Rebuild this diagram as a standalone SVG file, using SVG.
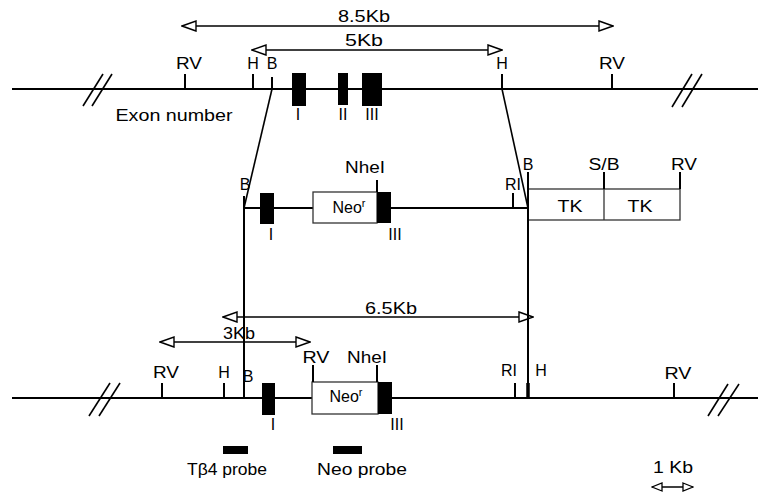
<svg xmlns="http://www.w3.org/2000/svg" width="758" height="495" viewBox="0 0 758 495">
<style>
.t{font-family:"Liberation Sans",Arial,Helvetica,sans-serif;font-size:16px;text-anchor:middle;fill:#000}
.ln{stroke:#000;stroke-width:2;fill:none}
.tk{stroke:#000;stroke-width:2;fill:none}
.ex{fill:#000;stroke:none}
.bx{fill:#fff;stroke:#333;stroke-width:1.3}
.dim{stroke:#000;stroke-width:1.6;fill:none;marker-start:url(#ah);marker-end:url(#ah)}
.dims{stroke:#000;stroke-width:1.4;fill:none;marker-start:url(#ahs);marker-end:url(#ahs)}
.sl{stroke:#000;stroke-width:1.6;fill:none}
</style>
<defs>
<marker id="ah" viewBox="-1 -1 16 12" refX="14" refY="5" markerWidth="16" markerHeight="12" markerUnits="userSpaceOnUse" orient="auto-start-reverse">
<path d="M0,0 L14,5 L0,10 Z" fill="#fff" stroke="#000" stroke-width="1.4"/>
</marker>
<marker id="ahs" viewBox="-1 -1 12 10" refX="10" refY="4" markerWidth="12" markerHeight="10" markerUnits="userSpaceOnUse" orient="auto-start-reverse">
<path d="M0,0 L10,4 L0,8 Z" fill="#fff" stroke="#000" stroke-width="1.3"/>
</marker>
</defs>
<rect width="758" height="495" fill="#fff"/>

<g id="dimensions">
<line class="dim" x1="182" y1="26" x2="613" y2="26"/>
<text class="t" x="364" y="22" textLength="52" lengthAdjust="spacingAndGlyphs">8.5Kb</text>
<line class="dim" x1="252" y1="50" x2="502" y2="50"/>
<text class="t" x="364" y="46" textLength="38" lengthAdjust="spacingAndGlyphs">5Kb</text>
<line class="dim" x1="223" y1="317" x2="533" y2="317"/>
<text class="t" x="391" y="314" textLength="52" lengthAdjust="spacingAndGlyphs">6.5Kb</text>
<line class="dim" x1="160" y1="342" x2="310" y2="342"/>
<text class="t" x="239" y="339" textLength="32" lengthAdjust="spacingAndGlyphs">3Kb</text>
</g>

<g id="genomic-locus">
<line class="ln" x1="12" y1="89" x2="758" y2="89"/>
<line class="sl" x1="83" y1="106" x2="103" y2="74"/>
<line class="sl" x1="92" y1="106" x2="112" y2="74"/>
<line class="sl" x1="672" y1="107" x2="692" y2="74"/>
<line class="sl" x1="682" y1="107" x2="702" y2="74"/>
<line class="tk" x1="185" y1="74" x2="185" y2="89"/>
<line class="tk" x1="253" y1="74" x2="253" y2="89"/>
<line class="tk" x1="272" y1="77" x2="272" y2="89"/>
<line class="tk" x1="502" y1="74" x2="502" y2="89"/>
<line class="tk" x1="612" y1="74" x2="612" y2="89"/>
<rect class="ex" x="292" y="73" width="14" height="33"/>
<rect class="ex" x="338" y="73" width="10" height="32"/>
<rect class="ex" x="362" y="73" width="20" height="33"/>
<text class="t" x="189" y="69" textLength="26" lengthAdjust="spacingAndGlyphs">RV</text>
<text class="t" x="253" y="69">H</text>
<text class="t" x="272" y="69">B</text>
<text class="t" x="502" y="69">H</text>
<text class="t" x="612" y="69" textLength="26" lengthAdjust="spacingAndGlyphs">RV</text>
<text class="t" x="174" y="121" textLength="117" lengthAdjust="spacingAndGlyphs">Exon number</text>
<text class="t" x="298" y="120">I</text>
<text class="t" x="343" y="120">II</text>
<text class="t" x="372" y="120">III</text>
</g>

<g id="targeting-construct">
<line class="ln" x1="244" y1="208" x2="528" y2="208"/>
<line class="tk" x1="244" y1="196" x2="244" y2="208"/>
<rect class="ex" x="260" y="193" width="14" height="31"/>
<rect class="bx" x="313" y="192" width="64" height="31"/>
<rect class="ex" x="377" y="192" width="14" height="31"/>
<line class="tk" x1="377" y1="180" x2="377" y2="192"/>
<line class="tk" x1="513" y1="193" x2="513" y2="208"/>
<rect class="bx" x="528" y="189" width="152" height="31"/>
<line class="bx" x1="604" y1="189" x2="604" y2="220"/>
<line class="tk" x1="528" y1="172" x2="528" y2="220"/>
<line class="tk" x1="604" y1="172" x2="604" y2="189"/>
<line class="tk" x1="680" y1="172" x2="680" y2="189"/>
<text class="t" x="245" y="190">B</text>
<text class="t" x="365" y="173" textLength="40" lengthAdjust="spacingAndGlyphs">NheI</text>
<text class="t" x="349" y="213">Neo<tspan font-size="11" dy="-6">r</tspan></text>
<text class="t" x="271" y="240">I</text>
<text class="t" x="395" y="240">III</text>
<text class="t" x="513" y="190">RI</text>
<text class="t" x="528" y="170">B</text>
<text class="t" x="604" y="170" textLength="31" lengthAdjust="spacingAndGlyphs">S/B</text>
<text class="t" x="684" y="170" textLength="26" lengthAdjust="spacingAndGlyphs">RV</text>
<text class="t" x="570" y="212" textLength="25" lengthAdjust="spacingAndGlyphs">TK</text>
<text class="t" x="640" y="212" textLength="25" lengthAdjust="spacingAndGlyphs">TK</text>
</g>

<g id="connectors">
<line class="sl" x1="272" y1="89" x2="244" y2="208"/>
<line class="sl" x1="502" y1="89" x2="528" y2="208"/>
<line class="ln" x1="244" y1="208" x2="244" y2="398"/>
<line class="ln" x1="528" y1="220" x2="528" y2="398"/>
</g>

<g id="targeted-allele">
<line class="ln" x1="12" y1="398" x2="758" y2="398"/>
<line class="sl" x1="89" y1="416" x2="110" y2="383"/>
<line class="sl" x1="99" y1="416" x2="120" y2="383"/>
<line class="sl" x1="708" y1="416" x2="728" y2="384"/>
<line class="sl" x1="718" y1="416" x2="739" y2="384"/>
<line class="tk" x1="162" y1="383" x2="162" y2="398"/>
<line class="tk" x1="224" y1="383" x2="224" y2="398"/>
<line class="tk" x1="515" y1="383" x2="515" y2="398"/>
<line stroke="#000" stroke-width="3.5" x1="528" y1="383" x2="528" y2="398"/>
<line class="tk" x1="674" y1="383" x2="674" y2="398"/>
<rect class="ex" x="262" y="383" width="13" height="32"/>
<rect class="bx" x="312" y="382" width="66" height="32"/>
<rect class="ex" x="378" y="382" width="14" height="32"/>
<line class="tk" x1="313" y1="365" x2="313" y2="382"/>
<line class="tk" x1="377" y1="365" x2="377" y2="382"/>
<text class="t" x="166" y="378" textLength="26" lengthAdjust="spacingAndGlyphs">RV</text>
<text class="t" x="224" y="378">H</text>
<text class="t" x="248" y="382">B</text>
<text class="t" x="273" y="430">I</text>
<text class="t" x="316" y="363" textLength="27" lengthAdjust="spacingAndGlyphs">RV</text>
<text class="t" x="367" y="363" textLength="40" lengthAdjust="spacingAndGlyphs">NheI</text>
<text class="t" x="346" y="402">Neo<tspan font-size="11" dy="-6">r</tspan></text>
<text class="t" x="397" y="430">III</text>
<text class="t" x="509" y="376">RI</text>
<text class="t" x="541" y="376">H</text>
<text class="t" x="678" y="379" textLength="27" lengthAdjust="spacingAndGlyphs">RV</text>
</g>

<g id="probes">
<rect class="ex" x="223" y="446" width="25" height="8"/>
<rect class="ex" x="333" y="446" width="29" height="8"/>
<text class="t" x="227" y="475" textLength="80" lengthAdjust="spacingAndGlyphs">Tβ4 probe</text>
<text class="t" x="362" y="475" textLength="90" lengthAdjust="spacingAndGlyphs">Neo probe</text>
</g>

<g id="scale">
<text class="t" x="673" y="473" textLength="40" lengthAdjust="spacingAndGlyphs">1 Kb</text>
<line class="dims" x1="652" y1="487" x2="693" y2="487"/>
</g>
</svg>
